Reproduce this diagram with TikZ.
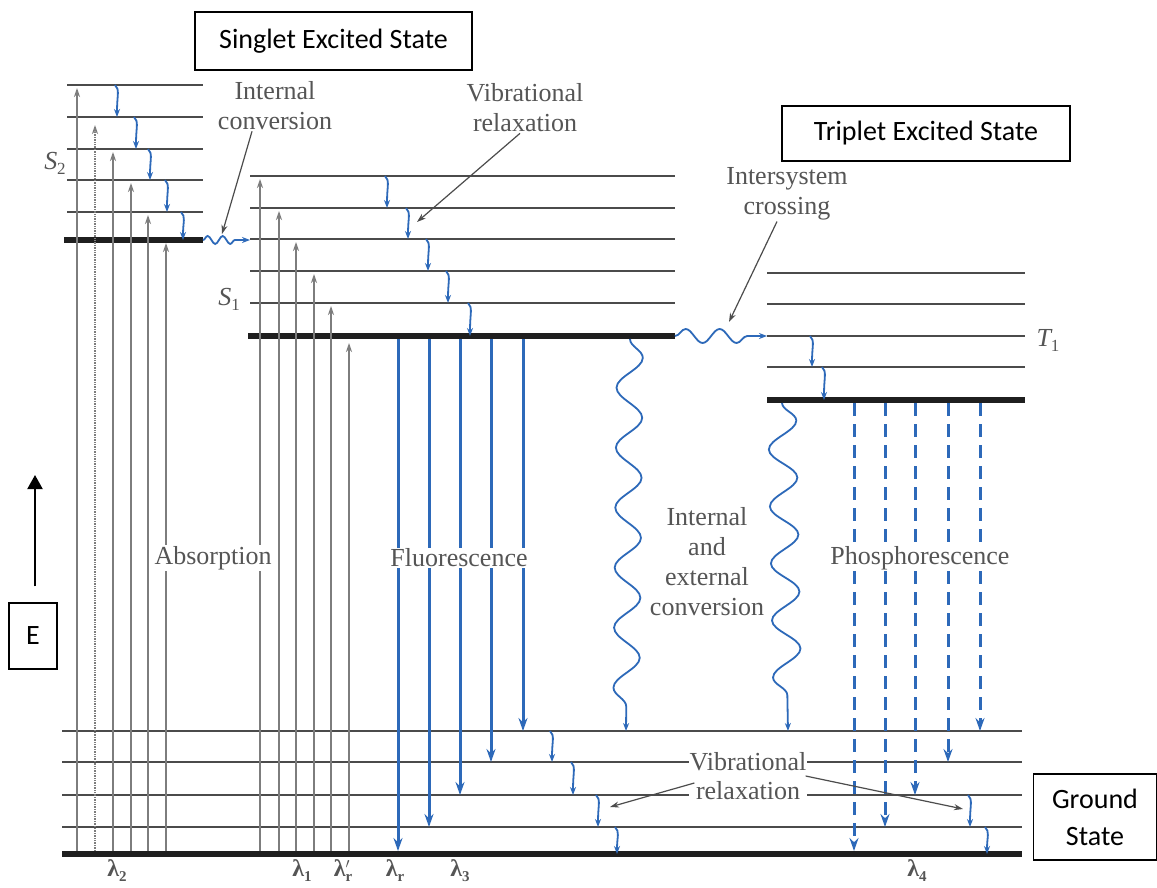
\documentclass[tikz,border=0pt]{standalone}
\usepackage{fontspec}
\setmainfont{Liberation Serif}
\newfontfamily\calib{Carlito}
\usetikzlibrary{arrows.meta,decorations.pathmorphing}
\definecolor{fblue}{RGB}{45,105,185}
\definecolor{lvlc}{RGB}{75,75,75}
\definecolor{txt}{RGB}{85,85,85}
\definecolor{absc}{RGB}{125,125,125}
\newcommand\lam[1]{{\bfseries λ}\raisebox{-5pt}{\fontsize{15}{15}\selectfont\bfseries #1}}
\begin{document}
\begin{tikzpicture}[x=1pt,y=-1pt,
  lvl/.style={draw=lvlc,line width=2pt},
  lvlthick/.style={draw=black!88,line width=6pt},
  absarr/.style={draw=absc,line width=1.4pt,-{Stealth[length=9pt,width=6pt]}},
  fluo/.style={draw=fblue,line width=3pt,-{Stealth[length=13pt,width=9pt]}},
  phos/.style={fluo,dash pattern=on 13pt off 8pt},
  rel/.style={draw=fblue,line width=1.8pt,-{Stealth[length=8pt,width=6pt]}},
  wav/.style={draw=fblue,line width=1.8pt,decorate,-{Stealth[length=8pt,width=6pt]}},
  ptr/.style={draw=black!70,line width=1.2pt,-{Stealth[length=9pt,width=6pt]}},
  lab/.style={text=txt,font=\fontsize{26}{30}\selectfont,align=center,fill=white,inner sep=1pt},
  lamlab/.style={text=txt,font=\fontsize{24}{24}\selectfont,inner sep=0pt},
  lbox/.style={draw=black,line width=1.5pt,font=\calib\fontsize{28}{37}\selectfont,align=center,inner sep=0pt},
]
\useasboundingbox (0,0) rectangle (1157,888);
\fill[white] (0,0) rectangle (1157,888);

% ---- energy levels ----
\foreach \y in {85,117,149,180,212} \draw[lvl] (67,\y) -- (203,\y);
\draw[lvlthick] (64,240) -- (203,240);
\foreach \y in {176,208,239,271,303} \draw[lvl] (250,\y) -- (675,\y);
\draw[lvlthick] (248,336) -- (675,336);
\foreach \y in {273,304,336,367} \draw[lvl] (767,\y) -- (1025,\y);
\draw[lvlthick] (767,400) -- (1025,400);
\foreach \y in {731,762,795,827} \draw[lvl] (62,\y) -- (1022,\y);
\draw[lvlthick] (62,854) -- (1022,854);

% ---- absorption ----
\foreach \x/\t in {77/88,113/152,131/183,148/215,166/243,260/179,279/211,296/242,314/274,331/306,349/343}
  \draw[absarr] (\x,851) -- (\x,\t);
\draw[absarr,densely dotted] (95,851) -- (95,125);

% ---- vibrational relaxation (small arrows) ----
\foreach \x/\a/\b in {117/85/117,136/117/149,150/149/180,167/180/212,183/212/240,
  387/176/208,408/208/239,428/239/271,448/271/303,470/303/336,
  812/336/367,824/367/400,
  552/731/762,573/762/795,598/795/827,617/827/854,970/795/827,987/827/854}
  \draw[rel] (\x-2,\a) .. controls (\x+3,\a+5) and (\x,\a+9) .. (\x,\b);

% ---- fluorescence ----
\foreach \x/\e in {398/851,429/827,460/795,491/762,523/731}
  \draw[fluo] (\x,339) -- (\x,\e);
% ---- phosphorescence ----
\foreach \x/\e in {854/851,885/827,915/795,948/762,980/731}
  \draw[phos] (\x,403) -- (\x,\e);

% ---- wavy transitions ----
\draw[wav,decoration={snake,amplitude=4pt,segment length=15pt,post length=13pt}] (203,240) -- (250,240);
\draw[wav,decoration={snake,amplitude=7pt,segment length=34pt,post length=18pt}] (675,336) -- (767,336);
\draw[wav,decoration={snake,amplitude=13pt,segment length=60pt,post length=14pt}] (630,339) -- (626,731);
\draw[wav,decoration={snake,amplitude=14pt,segment length=57pt,post length=14pt}] (782,403) -- (788,731);

% ---- labels ----
\node[lab] (absn) at (213,558) {Absorption};
\node[lab] (fluon) at (459,558) {Fluorescence};
\node[lab] (phosn) at (920,558) {Phosphorescence};
\node[lab] (iecn) at (707,562) {Internal\\and\\external\\conversion};
\node[lab,fill=none] (icn) at (275,106) {Internal\\conversion};
\node[lab,fill=none] (vrn) at (525,108) {Vibrational\\relaxation};
\node[lab,fill=none] (iscn) at (787,194) {Intersystem\\crossing};
\node[lab,font=\fontsize{26}{29}\selectfont] (gvrn) at (748,776) {Vibrational\\relaxation};

\node[text=txt,font=\fontsize{26}{26}\selectfont,inner sep=0pt] (s2n) at (55,163) {\itshape S\raisebox{-5pt}{\fontsize{17}{17}\selectfont\upshape 2}};
\node[text=txt,font=\fontsize{26}{26}\selectfont,inner sep=0pt] (s1n) at (229,299) {\itshape S\raisebox{-5pt}{\fontsize{17}{17}\selectfont\upshape 1}};
\node[text=txt,font=\fontsize{26}{26}\selectfont,inner sep=0pt] (t1n) at (1048,340) {\itshape T\raisebox{-5pt}{\fontsize{17}{17}\selectfont\upshape 1}};

\node[lamlab] (l2) at (117,871) {\lam{2}};
\node[lamlab] (l1) at (302,871) {\lam{1}};
\node[lamlab] (lrp) at (343,871) {{\bfseries λ}\rlap{\raisebox{8pt}{\fontsize{15}{15}\selectfont$\prime$}}\raisebox{-5pt}{\fontsize{15}{15}\selectfont\bfseries r}};
\node[lamlab] (lr) at (395,871) {\lam{r}};
\node[lamlab] (l3) at (460,871) {\lam{3}};
\node[lamlab] (l4) at (917,871) {\lam{4}};

% ---- pointers ----
\coordinate (icp) at (222,234);
\coordinate (vrp) at (417,222);
\coordinate (iscp) at (729,322);
\coordinate (gvp1) at (610,807);
\coordinate (gvp2) at (963,809);
\draw[ptr] ([xshift=-23pt]icn.south) -- (icp);
\draw[ptr] ([xshift=-5pt]vrn.south) -- (vrp);
\draw[ptr] ([xshift=-10pt]iscn.south) -- (iscp);
\draw[ptr] ([xshift=6pt,yshift=-7pt]gvrn.west) -- (gvp1);
\draw[ptr] ([xshift=-2pt]gvrn.east) -- (gvp2);

% ---- boxes ----
\node[lbox,minimum width=277pt,minimum height=58pt] (singlet) at (333.5,41) {Singlet Excited State};
\node[lbox,minimum width=288pt,minimum height=55pt] (triplet) at (926,133.5) {Triplet Excited State};
\node[lbox,minimum width=48pt,minimum height=66pt] (ebox) at (33,636) {E};
\node[lbox,minimum width=123pt,minimum height=86pt] (ground) at (1095,817) {Ground\\State};
\coordinate (etop) at (35,475);
\draw[black,line width=2pt,-{Triangle[length=14pt,width=15pt]}] ([xshift=2pt,yshift=16pt]ebox.north) -- (etop);
\end{tikzpicture}
\end{document}
